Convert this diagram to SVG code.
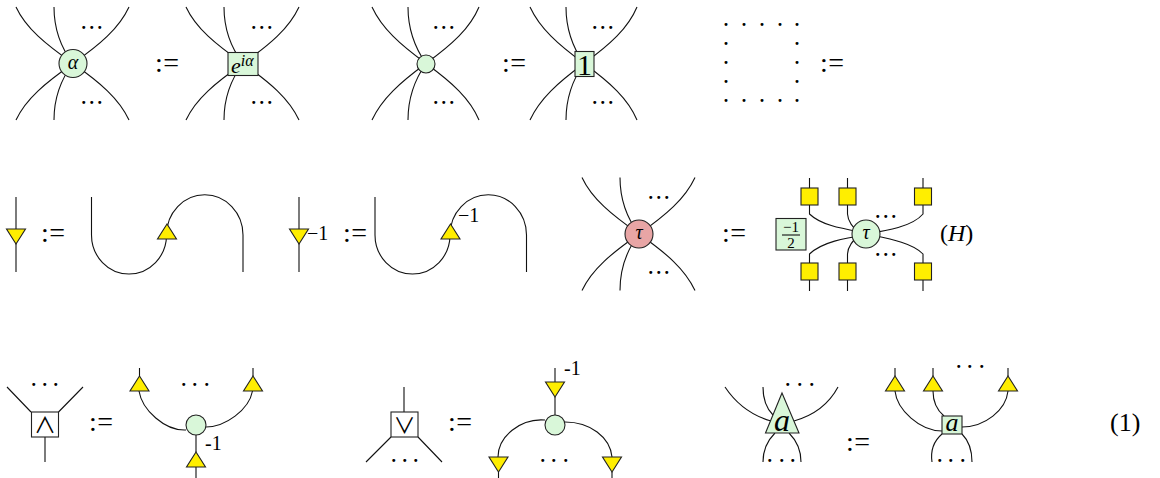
<svg xmlns="http://www.w3.org/2000/svg" width="1160" height="478" viewBox="0 0 1160 478">
<style>
text{font-family:"Liberation Serif","Times New Roman",serif;fill:#000}
.i{font-style:italic}
.op{font-size:28px;letter-spacing:0.5px}
.d{font-size:18px;font-weight:bold;transform:translate(-2.25px,3.25px)}
.v{font-family:"Noto Sans CJK SC","DejaVu Sans",sans-serif;font-size:22px}
.l{fill:none;stroke:#111;stroke-width:1.1}
.n{stroke:#222;stroke-width:1.1}
.g{fill:#d9f7d9}
.y{fill:#ffee00}
.r{fill:#e8a5a5}
.w{fill:#fff}
.m{text-anchor:middle}
</style>
<defs>
<path id="sp" class="l" d="M-57,-56.500C-47,-35 -27,-19 0,0C-13,-17 -19,-35 -19,-56.500M56,-56.500C46,-35 27,-19 0,0M-57,56.500C-47,35 -27,19 0,0C-13,17 -19,35 -19,56.500M56,56.500C46,35 27,19 0,0"/>
<path id="sp2" class="l" d="M-54,-56.500C-44,-35 -26,-19 0,0C-12,-17 -18,-35 -18,-56.500M53,-56.500C44,-35 26,-19 0,0M-54,56.500C-44,35 -26,19 0,0C-12,17 -18,35 -18,56.500M53,56.500C44,35 26,19 0,0"/>
<path id="s" class="l" d="M0,0V38A37.500,39 0 0 0 75,38A38,40 0 0 1 151.500,38V75"/>
<polygon id="td" class="n y" points="-9.500,0 9.500,0 0,15"/>
<polygon id="tu" class="n y" points="-9.500,15 9.500,15 0,0"/>
<rect id="ys" class="n y" x="-8.500" y="-8.500" width="17" height="17"/>
</defs>
<g id="connectors">
<use href="#sp" x="73" y="63.500"/>
<use href="#sp" x="243" y="63.500"/>
<use href="#sp2" x="426" y="63.500"/>
<use href="#sp2" x="584" y="63.500"/>
<path class="l" d="M16,197V272M299,197V272"/>
<use href="#s" x="91.500" y="197"/>
<use href="#s" x="375" y="197"/>
<use href="#sp" x="639" y="234"/>
<path class="l" d="M809.500,178V214C822,226 845,229 866,233M847.500,178V214C848,222 853,227 858,232M923,178V214C912,227 885,231 866,234M809.500,291V254C822,242 845,238 866,235M847.500,291V254C848,246 853,241 858,236M923,291V254C912,242 885,238 866,234"/>
<path class="l" d="M7,387L31,412M83,387L58.500,412M45,437V462"/>
<path class="l" d="M139.500,368V376M253,368V376M139,391C142,410 165,431 186,430M252.500,391C249,410 225,427 206,427M196,435V452M196,467V478"/>
<path class="l" d="M404,387V412M366,462L391,437M442,462L418,437"/>
<path class="l" d="M555,368V382M555,397V415M498,457C498,437 520,418 545,420M612,457C610,437 590,422 565,422M498.500,472V478M612,472V478"/>
<path class="l" d="M725,387C735,402 750,415 771,421M763,387C763,400 766,408 773,415M838,387C830,402 815,415 794,421M763,462C763,448 768,440 775,433M801,462C801,448 796,440 789,433"/>
<path class="l" d="M895,368V376M933,368V376M1008,368V376M895,391C897,410 920,431 942,431M933,391C933,403 938,411 944,416M1008,391C1006,410 985,427 962,427M932,462C930,448 935,440 942,434M972,462C972,448 968,440 962,434"/>
</g>
<g id="n1"><circle class="n g" cx="73" cy="63.500" r="14"/><text class="i m" x="73" y="69" font-size="20">α</text></g>
<g id="dots1"><text class="d" x="83 91 99" y="31">···</text><text class="d" x="83 91 99" y="106">···</text></g>
<text class="op" x="155" y="72">:=</text>
<g id="n2"><rect class="n g" x="228" y="52.500" width="30" height="23"/><text class="i" x="231" y="73" font-size="22">e<tspan font-size="16" dy="-7">iα</tspan></text></g>
<g id="dots2"><text class="d" x="253 261 269" y="31">···</text><text class="d" x="253 261 269" y="106">···</text></g>
<g id="n3"><circle class="n g" cx="426" cy="64" r="9"/></g>
<g id="dots3"><text class="d" x="435 443 451" y="31">···</text><text class="d" x="435 443 451" y="106">···</text></g>
<text class="op" x="502" y="72">:=</text>
<g id="n4"><rect class="n g" x="575" y="51.500" width="19" height="25"/><text class="m" x="584.500" y="74.500" font-size="30">1</text></g>
<g id="dots4"><text class="d" x="594 602 610" y="31">···</text><text class="d" x="594 602 610" y="106">···</text></g>
<g id="grid" font-size="18" font-weight="bold">
<text x="723 741 759 777 794" y="31">·····</text>
<text x="723 794" y="50">··</text>
<text x="723 794" y="69">··</text>
<text x="723 794" y="88">··</text>
<text x="723 741 759 777 794" y="107">·····</text>
</g>
<text class="op" x="820" y="72">:=</text>
<g id="n5"><use href="#td" x="16" y="229"/></g>
<text class="op" x="41" y="242">:=</text>
<g id="n6"><use href="#tu" x="167" y="224"/></g>
<g id="n7"><use href="#td" x="299" y="229"/><text x="307" y="240" font-size="20">−1</text></g>
<text class="op" x="343" y="242">:=</text>
<g id="n8"><use href="#tu" x="450.500" y="224"/><text x="458" y="222" font-size="20">−1</text></g>
<g id="n9"><circle class="n r" cx="639" cy="234" r="14"/><text class="i m" x="639" y="239" font-size="20">τ</text></g>
<g id="dots5"><text class="d" x="650 658 666" y="201">···</text><text class="d" x="650 658 666" y="276">···</text></g>
<text class="op" x="722" y="242">:=</text>
<g id="n10"><rect class="n g" x="776" y="218.500" width="30" height="31.500"/><text class="m" x="791" y="232" font-size="15">−1</text><path class="l" d="M782,235H800"/><text class="m" x="791" y="248" font-size="15">2</text></g>
<g id="n11">
<use href="#ys" x="809.500" y="196.500"/><use href="#ys" x="847.500" y="196.500"/><use href="#ys" x="923" y="196.500"/>
<use href="#ys" x="809.500" y="271.500"/><use href="#ys" x="847.500" y="271.500"/><use href="#ys" x="923" y="271.500"/>
<circle class="n g" cx="866" cy="234" r="14"/><text class="i m" x="866" y="239" font-size="20">τ</text>
</g>
<g id="dots6"><text class="d" x="877 885 893" y="220">···</text><text class="d" x="877 885 893" y="258">···</text></g>
<text x="940" y="241" font-size="24">(<tspan class="i">H</tspan>)</text>
<g id="n12"><rect class="n w" x="31.500" y="412" width="27" height="25"/><text class="m v" x="45" y="433">∧</text></g>
<g id="dots7"><text class="d" x="33 44 55" y="388">···</text></g>
<text class="op" x="89" y="431">:=</text>
<g id="n13">
<use href="#tu" x="139.500" y="376"/><use href="#tu" x="253" y="376"/><use href="#tu" x="196" y="452"/>
<circle class="n g" cx="196" cy="425" r="10"/><text x="205" y="450" font-size="20">-1</text>
</g>
<g id="dots8"><text class="d" x="183 194 206" y="388">···</text></g>
<g id="n14"><rect class="n w" x="391" y="412" width="27" height="25"/><text class="m v" x="404.500" y="433">∨</text></g>
<g id="dots9"><text class="d" x="393 404 415" y="464">···</text></g>
<text class="op" x="448" y="431">:=</text>
<g id="n15">
<use href="#td" x="555" y="382"/><use href="#td" x="498.500" y="457"/><use href="#td" x="612" y="457"/>
<circle class="n g" cx="555" cy="425" r="10"/><text x="564" y="375" font-size="20">-1</text>
</g>
<g id="dots10"><text class="d" x="542 553 565" y="464">···</text></g>
<g id="n16"><polygon class="n g" points="782,393 799,433 765.500,433"/><text class="i m" x="782" y="431" font-size="32">a</text></g>
<g id="dots11"><text class="d" x="787 799 811" y="388">···</text><text class="d" x="769 781 792" y="464">···</text></g>
<text class="op" x="846" y="451">:=</text>
<g id="n17">
<use href="#tu" x="895" y="376"/><use href="#tu" x="933" y="376"/><use href="#tu" x="1008" y="376"/>
<rect class="n g" x="942" y="416" width="20" height="18"/><text class="i m" x="952" y="431" font-size="26">a</text>
</g>
<g id="dots12"><text class="d" x="958 969 981" y="370">···</text><text class="d" x="939 950 962" y="464">···</text></g>
<text x="1110" y="431" font-size="26">(1)</text>
</svg>
